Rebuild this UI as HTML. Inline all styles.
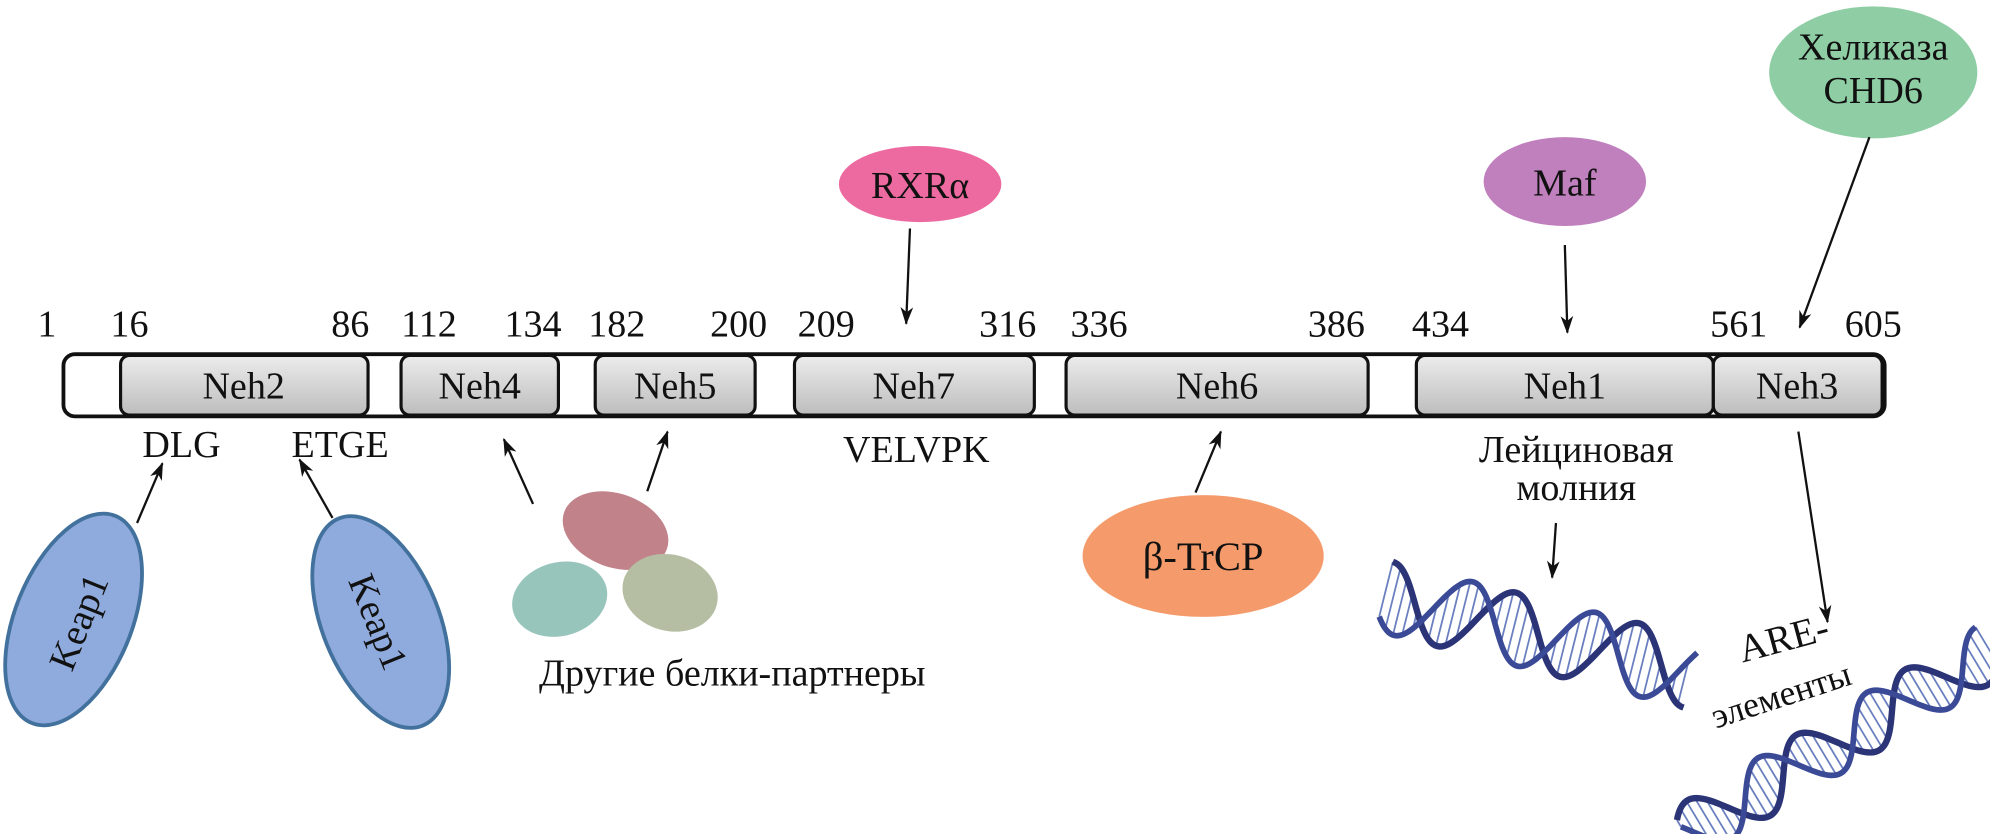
<!DOCTYPE html>
<html><head><meta charset="utf-8"><style>
html,body{margin:0;padding:0;background:#fff;}
svg{display:block}
text{font-family:"Liberation Serif","DejaVu Serif",serif;fill:#111;}
</style></head><body>
<svg id="s" width="1990" height="834" viewBox="0 0 1568 657" preserveAspectRatio="none" xmlns="http://www.w3.org/2000/svg">
<defs>
<linearGradient id="g" x1="0" y1="0" x2="0" y2="1"><stop offset="0" stop-color="#ececec"/><stop offset="1" stop-color="#bdbdbd"/></linearGradient>
<marker id="a" markerWidth="14" markerHeight="12" refX="13" refY="6" orient="auto" markerUnits="userSpaceOnUse"><path d="M0,1 L14,6 L0,11 L4,6 Z" fill="#111"/></marker>
</defs>
<rect x="50" y="279" width="1435" height="49" rx="9" fill="#fff" stroke="#111" stroke-width="3"/>
<g stroke="#111" stroke-width="2.5" fill="url(#g)">
<rect x="95" y="280" width="195" height="47" rx="7"/>
<rect x="316" y="280" width="124" height="47" rx="7"/>
<rect x="469" y="280" width="126" height="47" rx="7"/>
<rect x="626" y="280" width="189" height="47" rx="7"/>
<rect x="840" y="280" width="238" height="47" rx="7"/>
<rect x="1116" y="280" width="234" height="47" rx="7"/>
<rect x="1350" y="280" width="133" height="47" rx="7"/>
</g>
<g font-size="30" text-anchor="middle">
<text x="192" y="314">Neh2</text><text x="378" y="314">Neh4</text><text x="532" y="314">Neh5</text>
<text x="720" y="314">Neh7</text><text x="959" y="314">Neh6</text><text x="1233" y="314">Neh1</text><text x="1416" y="314">Neh3</text>
<text x="37" y="265">1</text><text x="102" y="265">16</text><text x="276" y="265">86</text><text x="338" y="265">112</text>
<text x="420" y="265">134</text><text x="486" y="265">182</text><text x="582" y="265">200</text><text x="651" y="265">209</text>
<text x="794" y="265">316</text><text x="866" y="265">336</text><text x="1053" y="265">386</text><text x="1135" y="265">434</text>
<text x="1370" y="265">561</text><text x="1476" y="265">605</text>
<text x="143" y="360">DLG</text><text x="268" y="360">ETGE</text><text x="722" y="364">VELVPK</text>
<text x="1242" y="364">Лейциновая</text><text x="1242" y="394">молния</text>
<text x="577" y="540">Другие белки-партнеры</text>
</g>
<g stroke="#41719c" stroke-width="3" fill="#8faadc">
<ellipse cx="58" cy="488" rx="46" ry="88" transform="rotate(22 58 488)"/>
<ellipse cx="300" cy="490" rx="46" ry="88" transform="rotate(-22 300 490)"/>
</g>
<text font-size="30" text-anchor="middle" transform="translate(62,490) rotate(-68)" dy="10">Keap1</text>
<text font-size="30" text-anchor="middle" transform="translate(298,490) rotate(68)" dy="10">Keap1</text>
<ellipse cx="485" cy="418" rx="43" ry="29" fill="#c1828a" transform="rotate(20 485 418)"/>
<ellipse cx="441" cy="472" rx="38" ry="29" fill="#98c5bb" transform="rotate(-15 441 472)"/>
<ellipse cx="528" cy="467" rx="38" ry="30" fill="#b5bea2" transform="rotate(15 528 467)"/>
<ellipse cx="725" cy="145" rx="64" ry="30" fill="#ec6aa0"/>
<text x="725" y="156" font-size="30" text-anchor="middle">RXRα</text>
<ellipse cx="1233" cy="143" rx="64" ry="35" fill="#c07fbd"/>
<text x="1233" y="154" font-size="30" text-anchor="middle">Maf</text>
<ellipse cx="1476" cy="57" rx="82" ry="52" fill="#8fcea5"/>
<text x="1476" y="47" font-size="30" text-anchor="middle">Хеликаза</text>
<text x="1476" y="81" font-size="30" text-anchor="middle">CHD6</text>
<ellipse cx="948" cy="438" rx="95" ry="48" fill="#f59b6b"/>
<text x="948" y="449" font-size="32" text-anchor="middle">β-TrCP</text>
<g stroke="#111" stroke-width="1.8" marker-end="url(#a)">
<line x1="108" y1="412" x2="128" y2="365"/><line x1="262" y1="408" x2="236" y2="362"/>
<line x1="420" y1="397" x2="397" y2="346"/><line x1="510" y1="387" x2="526" y2="340"/>
<line x1="717" y1="180" x2="714" y2="255"/><line x1="1233" y1="193" x2="1235" y2="262"/>
<line x1="1473" y1="108" x2="1418" y2="258"/><line x1="942" y1="388" x2="962" y2="340"/>
<line x1="1226" y1="412" x2="1223" y2="455"/><line x1="1417" y1="340" x2="1440" y2="490"/>
</g>
<g id="dna1"></g><g id="dna2"></g>
<text font-size="31" transform="translate(1373,522) rotate(-15)">ARE-</text>
<text font-size="28" transform="translate(1352,574) rotate(-18)">элементы</text>
</svg>
<script>
function dna(id,cx,cy,ang,L,A){
  var g=document.getElementById(id);
  var lam=100;
  var pa=[],pb=[];
  for(var x=-L/2;x<=L/2;x+=2){
    pa.push([x,A*Math.sin(2*Math.PI*x/lam)]);
    pb.push([x,A*Math.sin(2*Math.PI*x/lam+2.2)]);
  }
  var h='<g transform="translate('+cx+','+cy+') rotate('+ang+')">';
  for(var x=-L/2;x<=L/2;x+=7){
    var y1=A*Math.sin(2*Math.PI*x/lam),y2=A*Math.sin(2*Math.PI*x/lam+2.2);
    h+='<line x1="'+x+'" y1="'+y1+'" x2="'+x+'" y2="'+y2+'" stroke="#6a7fbf" stroke-width="1.4"/>';
  }
  h+='<polyline fill="none" stroke="#2a3476" stroke-width="5" points="'+pa.map(p=>p.join(',')).join(' ')+'"/>';
  h+='<polyline fill="none" stroke="#3b4a96" stroke-width="4.5" points="'+pb.map(p=>p.join(',')).join(' ')+'"/>';
  h+='</g>';
  g.innerHTML=h;
}
dna("dna1",1212,500,14,250,28);
dna("dna2",1448,585,-31,280,22);
</script>
</body></html>
